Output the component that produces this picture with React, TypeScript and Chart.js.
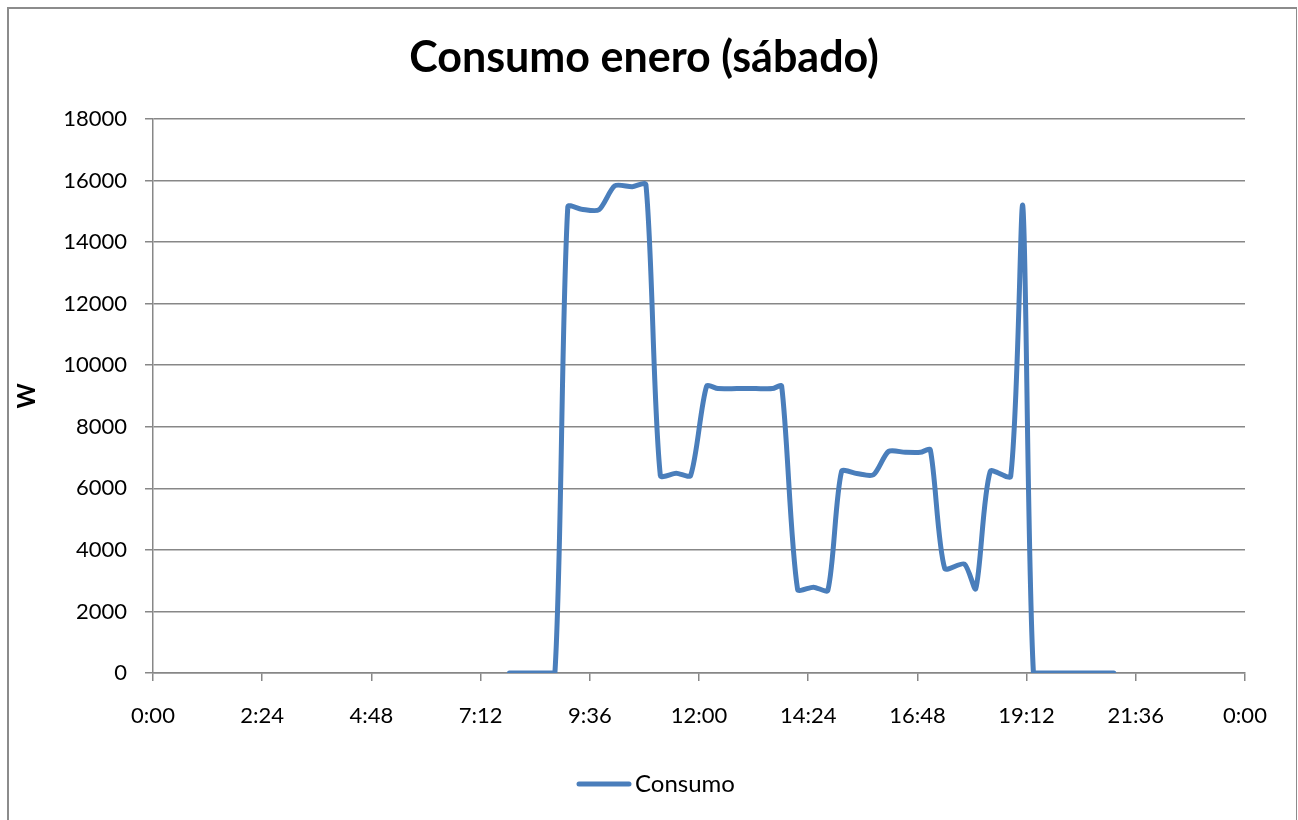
import React, { useEffect, useRef } from "react";
import { Chart, registerables } from "chart.js";

Chart.register(...registerables);

const TITLE = "Consumo enero (sábado)";
const SERIES_LABEL = "Consumo";
const Y_AXIS_LABEL = "W";

// time of day of each reading
const times: string[] = [
  "7:50", "8:10", "8:30", "8:50", "9:07", "9:25", "9:48", "10:09", "10:32", "10:50",
  "11:09", "11:30", "11:49", "12:10", "12:25", "12:50", "13:15", "13:37", "13:49", "14:10",
  "14:31", "14:50", "15:08", "15:28", "15:50", "16:10", "16:32", "16:52", "17:05", "17:24",
  "17:50", "18:05", "18:24", "18:51", "19:07", "19:21", "19:40", "20:00", "20:20", "20:40",
  "21:07",
];

// consumption in W
const consumo: number[] = [
  0, 0, 0, 0, 15150, 15070, 15050, 15830, 15800, 15870,
  6420, 6490, 6420, 9320, 9240, 9240, 9240, 9240, 9320, 2720,
  2790, 2690, 6550, 6480, 6440, 7200, 7170, 7170, 7250, 3400,
  3540, 2740, 6550, 6390, 15170, 0, 0, 0, 0, 0,
  0,
];

const X_MIN = 0;
const X_MAX = 1440; // minutes in a day
const X_STEP = 144; // 2:24
const Y_MIN = 0;
const Y_MAX = 18000;
const Y_STEP = 2000;

const FONT = "Lato";
const LINE_COLOR = "#4a7ebb";
const GRID_COLOR = "#878787";

function toMinutes(t: string): number {
  const [h, m] = t.split(":").map(Number);
  return h * 60 + m;
}

function fmtTime(v: number): string {
  const m = Math.round(v) % 1440;
  return `${Math.floor(m / 60)}:${String(m % 60).padStart(2, "0")}`;
}

const overlayPlugin = {
  id: "overlay",
  afterDraw(chart: any) {
    const ctx = chart.ctx as CanvasRenderingContext2D;
    const ds = chart.data.datasets[0];
    ctx.save();
    ctx.fillStyle = "#000";
    ctx.font = `bold 43px ${FONT}`;
    ctx.textAlign = "center";
    ctx.textBaseline = "middle";
    ctx.fillText(TITLE, 644, 58);

    // legend
    ctx.strokeStyle = ds.borderColor;
    ctx.lineWidth = 5;
    ctx.lineCap = "round";
    ctx.beginPath();
    ctx.moveTo(579, 784);
    ctx.lineTo(629, 784);
    ctx.stroke();
    ctx.font = `24px ${FONT}`;
    ctx.textAlign = "left";
    ctx.fillText(ds.label, 635, 784);
    ctx.restore();
  },
};

export default function App() {
  const canvasRef = useRef<HTMLCanvasElement | null>(null);

  useEffect(() => {
    if (!canvasRef.current) return;
    const points = times.map((t, i) => ({ x: toMinutes(t), y: consumo[i] }));
    const chart = new Chart(canvasRef.current, {
      type: "line",
      data: {
        datasets: [
          {
            label: SERIES_LABEL,
            data: points,
            borderColor: LINE_COLOR,
            backgroundColor: LINE_COLOR,
            borderWidth: 5,
            borderCapStyle: "round",
            borderJoinStyle: "round",
            pointRadius: 0,
            tension: 0.25,
            fill: false,
          },
        ],
      },
      options: {
        animation: false,
        responsive: false,
        maintainAspectRatio: false,
        devicePixelRatio: 1,
        layout: { padding: { top: 119, right: 53, bottom: 0, left: 0 } },
        plugins: {
          legend: { display: false },
          title: { display: false },
          tooltip: { enabled: false },
        },
        scales: {
          x: {
            type: "linear",
            min: X_MIN,
            max: X_MAX,
            ticks: {
              stepSize: X_STEP,
              autoSkip: false,
              maxRotation: 0,
              color: "#000",
              padding: 22,
              font: { family: FONT, size: 22 },
              callback: (v: any) => fmtTime(Number(v)),
            },
            grid: {
              drawOnChartArea: false,
              drawTicks: true,
              tickLength: 8,
              color: GRID_COLOR,
              lineWidth: 1.5,
            },
            border: { display: true, color: GRID_COLOR, width: 1.5 },
            afterFit: (s: any) => {
              s.height = 147;
              s.paddingLeft = 0;
              s.paddingRight = 0;
            },
          },
          y: {
            min: Y_MIN,
            max: Y_MAX,
            ticks: {
              stepSize: Y_STEP,
              color: "#000",
              padding: 18,
              font: { family: FONT, size: 22 },
              callback: (v: any) => String(v),
            },
            grid: {
              color: GRID_COLOR,
              lineWidth: 1.5,
              tickLength: 8,
            },
            border: { display: true, color: GRID_COLOR, width: 1.5 },
            title: {
              display: true,
              text: Y_AXIS_LABEL,
              color: "#000",
              font: { family: FONT, size: 24, weight: "bold" },
              padding: { top: 13, bottom: 0 },
            },
            afterFit: (s: any) => {
              s.width = 153;
              s.paddingTop = 0;
              s.paddingBottom = 0;
            },
          },
        },
      },
      plugins: [overlayPlugin],
    } as any);
    return () => chart.destroy();
  }, []);

  return (
    <div
      style={{
        position: "absolute",
        left: 0,
        top: 0,
        width: 1298,
        height: 820,
        overflow: "hidden",
        background: "#fff",
      }}
    >
      <div
        style={{
          position: "absolute",
          left: 7,
          top: 7,
          width: 1287,
          height: 900,
          borderLeft: "2px solid #8c8c8c",
          borderTop: "2px solid #8c8c8c",
          borderRight: "1px solid #8c8c8c",
        }}
      />
      <canvas
        ref={canvasRef}
        width={1298}
        height={820}
        style={{ position: "absolute", left: 0, top: 0, width: 1298, height: 820 }}
      />
    </div>
  );
}
